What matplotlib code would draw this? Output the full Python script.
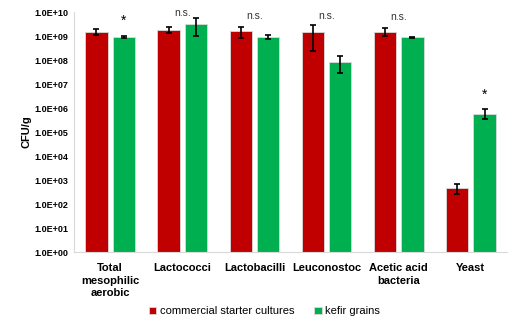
import matplotlib.pyplot as plt
import numpy as np

plt.rcParams['font.family'] = ['Liberation Sans', 'DejaVu Sans']

categories = ['Total\nmesophilic\naerobic', 'Lactococci', 'Lactobacilli',
              'Leuconostoc', 'Acetic acid\nbacteria', 'Yeast']
commercial = [1.4e9, 1.8e9, 1.6e9, 1.5e9, 1.5e9, 450]
commercial_lo = [1.1e9, 1.3e9, 0.85e9, 2.4e8, 0.98e9, 270]
commercial_hi = [1.9e9, 2.45e9, 2.3e9, 2.95e9, 2.25e9, 660]
kefir = [9.0e8, 3.1e9, 9.0e8, 8.0e7, 8.7e8, 5.8e5]
kefir_lo = [8.0e8, 1.0e9, 7.8e8, 3.0e7, 8.4e8, 3.4e5]
kefir_hi = [1.0e9, 5.5e9, 1.1e9, 1.4e8, 9.0e8, 8.7e5]
marks = ['*', 'n.s.', 'n.s.', 'n.s.', 'n.s.', '*']
mark_y = [4.5e9, 9.0e9, 7.0e9, 6.5e9, 6.0e9, 3.5e6]

red = '#C00000'
green = '#00B050'

fig = plt.figure(figsize=(5.14, 3.22), dpi=100)
ax = fig.add_axes([74 / 514, 1 - 252 / 322, 433 / 514, 240 / 322])

x = np.arange(len(categories))
w = 0.31
off = 0.19

def err(vals, lo, hi):
    v = np.array(vals)
    return [v - np.array(lo), np.array(hi) - v]

ax.bar(x - off, commercial, w, color=red, edgecolor='#d9d9d9', linewidth=0.6,
       yerr=err(commercial, commercial_lo, commercial_hi),
       error_kw=dict(ecolor='black', elinewidth=1.2, capsize=2.5, capthick=1.2),
       label='commercial starter cultures')
ax.bar(x + off, kefir, w, color=green, edgecolor='#d9d9d9', linewidth=0.6,
       yerr=err(kefir, kefir_lo, kefir_hi),
       error_kw=dict(ecolor='black', elinewidth=1.2, capsize=2.5, capthick=1.2),
       label='kefir grains')

for i, m in enumerate(marks):
    if m == '*':
        ax.text(x[i] + off, mark_y[i], m, ha='center', va='center', fontsize=10)
    else:
        ax.text(x[i], mark_y[i], m, ha='center', va='center', fontsize=7.5,
                color='#333333')

ax.set_yscale('log')
ax.set_ylim(1, 1e10)
ax.set_xlim(-0.5, 5.5)
ax.set_yticks([10.0 ** k for k in range(11)])
ax.set_yticklabels(['1.0E+%02d' % k for k in range(11)], fontsize=6.5,
                   fontweight='bold')
ax.yaxis.set_minor_locator(plt.NullLocator())
ax.set_xticks(x)
ax.set_xticklabels(categories, fontsize=8, fontweight='bold', linespacing=1.3)
ax.tick_params(axis='y', length=0, pad=4)
ax.tick_params(axis='x', length=0, pad=8)
ax.set_ylabel('CFU/g', fontsize=8, fontweight='bold', labelpad=2)

for s in ['top', 'right']:
    ax.spines[s].set_visible(False)
ax.spines['left'].set_color('#d9d9d9')
ax.spines['bottom'].set_color('#d9d9d9')

ax.legend(loc='lower center', bbox_to_anchor=(0.44, -0.31), ncol=2,
          frameon=False, fontsize=8, handlelength=0.7, handleheight=0.7,
          columnspacing=1.8, handletextpad=0.3)

plt.savefig('out.png', dpi=100)
